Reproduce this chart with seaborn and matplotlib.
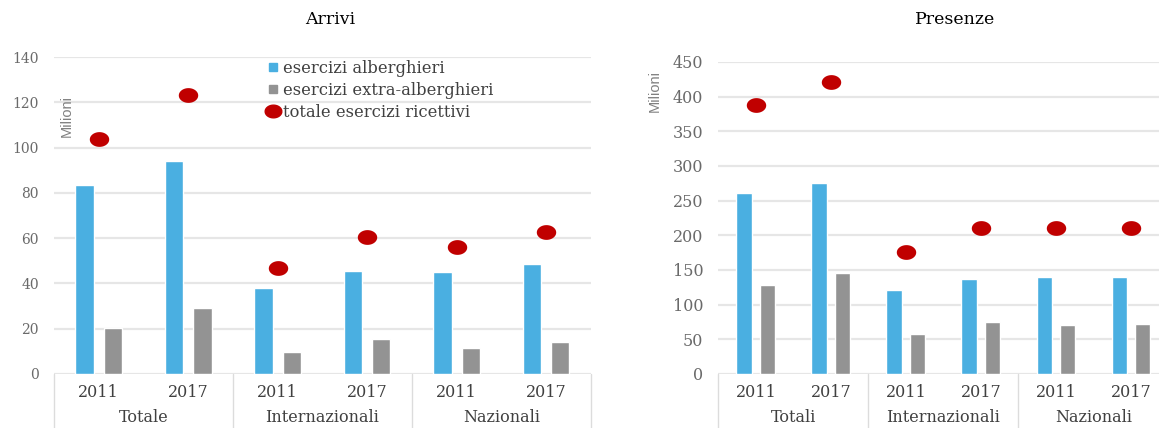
import numpy as np
import pandas as pd
import matplotlib
matplotlib.use("Agg")
import matplotlib.pyplot as plt
import seaborn as sns
from matplotlib.lines import Line2D

# ---------------- data ----------------
groups_arr = ["Totale", "Internazionali", "Nazionali"]
groups_pre = ["Totali", "Internazionali", "Nazionali"]
years = ["2011", "2017"]
series = ["esercizi alberghieri", "esercizi extra-alberghieri"]
total_label = "totale esercizi ricettivi"

arr_alb = [83.5, 94, 38, 45.5, 45, 48.5]
arr_extra = [20.3, 29.2, 9.7, 15.5, 11.5, 14]
arr_tot = [104, 123, 47, 60.5, 56, 62.5]

pre_alb = [261, 276, 121, 137, 140, 140]
pre_extra = [128, 146, 57, 75, 71, 72]
pre_tot = [388, 421, 176, 211, 211, 211]

arr_ticks = [0, 20, 40, 60, 80, 100, 120, 140]
pre_ticks = [0, 50, 100, 150, 200, 250, 300, 350, 400, 450]

# ---------------- style ----------------
sns.set_style("white")
SERIF = ["DejaVu Serif"]
plt.rcParams["font.family"] = SERIF

BLUE = "#4aafe1"
GRAY = "#939393"
RED = "#c00000"
GRID = "#e6e6e6"
TICKC = "#6a6a6a"
TEXTC = "#404040"

t = np.linspace(0, 2 * np.pi, 40)
ellipse = list(zip(np.cos(t), 0.76 * np.sin(t)))

fig = plt.figure(figsize=(11.59, 4.28), dpi=100)
axL = fig.add_axes([0.0466, 0.1262, 0.4633, 0.7406])
axR = fig.add_axes([0.6199, 0.1262, 0.3883, 0.7290])


def draw(ax, groups, alb, extra, tot, ticks, ytick_fs):
    cats = [f"{g} {y}" for g in groups for y in years]
    df = pd.DataFrame({
        "cat": cats * 2,
        "serie": [series[0]] * len(cats) + [series[1]] * len(cats),
        "val": alb + extra,
    })
    sns.barplot(data=df, x="cat", y="val", hue="serie", order=cats,
                hue_order=series, palette=[BLUE, GRAY], width=0.63, gap=0.35,
                saturation=1, legend=False, ax=ax, zorder=2)
    dft = pd.DataFrame({"cat": cats, "val": tot})
    sns.stripplot(data=dft, x="cat", y="val", order=cats, jitter=False,
                  color=RED, size=14, marker=ellipse, linewidth=0,
                  ax=ax, zorder=3)
    ax.set_xlim(-0.5, len(cats) - 0.5)
    ax.set_ylim(ticks[0], ticks[-1])
    ax.set_yticks(ticks)
    ax.set_yticklabels([str(v) for v in ticks], fontsize=ytick_fs, color=TICKC)
    ax.set_xticks(range(len(cats)))
    ax.set_xticklabels(years * len(groups), fontsize=11.5, color=TEXTC)
    ax.tick_params(axis="y", length=0, pad=11)
    ax.tick_params(axis="x", length=0, pad=7)
    ax.set_xlabel("")
    ax.set_ylabel("")
    ax.set_axisbelow(True)
    ax.yaxis.grid(True, color=GRID, lw=1.6)
    for s in ax.spines.values():
        s.set_visible(False)
    for xpos in [-0.5, 1.5, 3.5, 5.5]:
        ax.plot([xpos, xpos], [0, -0.18], color="#dcdcdc", lw=1,
                transform=ax.get_xaxis_transform(), clip_on=False)
    for i, g in enumerate(groups):
        ax.annotate(g, xy=(2 * i + 0.5, 0), xycoords=("data", "axes fraction"),
                    xytext=(0, -44 * 0.72), textcoords="offset points",
                    ha="center", va="center", fontsize=11.5, color=TEXTC)


draw(axL, groups_arr, arr_alb, arr_extra, arr_tot, arr_ticks, 10)
draw(axR, groups_pre, pre_alb, pre_extra, pre_tot, pre_ticks, 11.5)

fig.text(330 / 1159, 1 - 19 / 428, "Arrivi", ha="center", va="center",
         fontsize=12.5, color="black")
fig.text(955 / 1159, 1 - 19 / 428, "Presenze", ha="center", va="center",
         fontsize=12.5, color="black")

fig.text(67 / 1159, 1 - 116 / 428, "Milioni", rotation=90, ha="center",
         va="center", fontsize=10.5, color="#808080", family=["Liberation Sans"])
fig.text(655 / 1159, 1 - 91 / 428, "Milioni", rotation=90, ha="center",
         va="center", fontsize=10.5, color="#808080", family=["Liberation Sans"])

handles = [
    Line2D([], [], marker="s", ls="", color=BLUE, markersize=6),
    Line2D([], [], marker="s", ls="", color=GRAY, markersize=6),
    Line2D([], [], marker=ellipse, ls="", color=RED, markersize=12),
]
leg = axL.legend(handles, series + [total_label], loc="upper left",
                 bbox_to_anchor=(266 / 1159, 1 - 60 / 428),
                 bbox_transform=fig.transFigure, frameon=False,
                 handlelength=0.8, handletextpad=0.25, labelspacing=0.3,
                 borderpad=0, borderaxespad=0, fontsize=11.8)
for tx in leg.get_texts():
    tx.set_color(TEXTC)

fig.savefig("out.png", dpi=100)
